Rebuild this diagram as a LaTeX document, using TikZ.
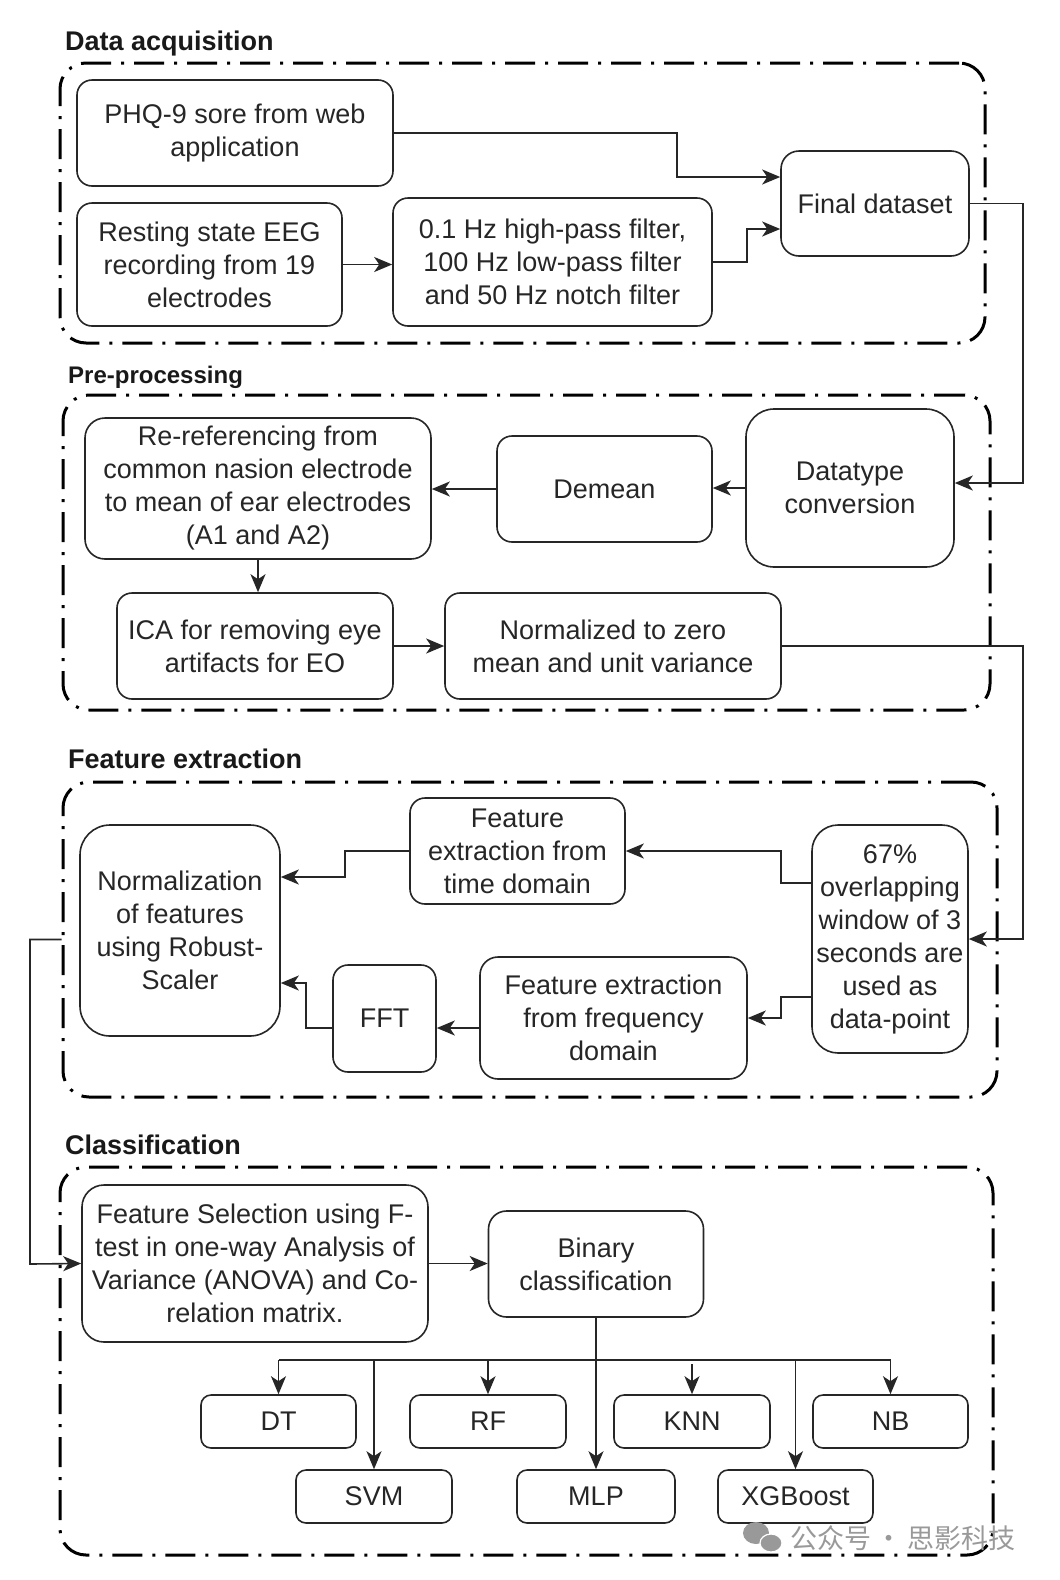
\documentclass[tikz,border=0pt]{standalone}
\usepackage{fontspec}
\setmainfont{Liberation Sans}
\newfontfamily\cjkfont{Noto Sans CJK SC}
\usetikzlibrary{arrows.meta}
\begin{document}
\begin{tikzpicture}[x=1pt,y=-1pt,
  box/.style={draw=black!85, line width=1.6pt, rounded corners=15pt, align=center, inner sep=0pt, font=\fontsize{27}{33}\selectfont, text=black!85},
  frame/.style={draw=black, line width=3pt, rounded corners=26pt, dash pattern=on 30pt off 10pt on 3pt off 10pt, inner sep=0pt},
  title/.style={anchor=base west, inner sep=0pt, font=\bfseries\fontsize{27}{32}\selectfont, text=black!90},
  conn/.style={draw=black!85, line width=1.6pt},
  arr/.style={conn, -{Stealth[length=18pt,width=15pt,inset=5pt]}}]
\useasboundingbox[fill=white] (0,0) rectangle (1060,1580);

% ---------- frames ----------
\node[frame, minimum width=925pt, minimum height=280pt] (da) at (522.5,203) {};
\node[frame, minimum width=927pt, minimum height=315pt] (pp) at (526.5,552.5) {};
\node[frame, minimum width=934pt, minimum height=315pt] (fe) at (530,939.5) {};
\node[frame, minimum width=933pt, minimum height=388pt] (cl) at (526.5,1361) {};

% ---------- titles ----------
\node[title] (tda) at (65,50) {Data acquisition};
\node[title, font=\bfseries\fontsize{24}{28}\selectfont] (tpp) at (68,383) {Pre-processing};
\node[title] (tfe) at (68,768) {Feature extraction};
\node[title] (tcl) at (65,1154) {Classification};

% ---------- data acquisition ----------
\node[box, minimum width=316pt, minimum height=106pt] (phq) at (235,133) {PHQ-9 sore from web\\application};
\node[box, minimum width=265pt, minimum height=123pt] (rest) at (209.5,264.5) {Resting state EEG\\recording from 19\\electrodes};
\node[box, minimum width=319pt, minimum height=128pt] (filt) at (552.5,262) {0.1 Hz high-pass filter,\\100 Hz low-pass filter\\and 50 Hz notch filter};
\node[box, minimum width=188pt, minimum height=105pt, rounded corners=18pt] (final) at (875,203.5) {Final dataset};

% ---------- pre-processing ----------
\node[box, minimum width=346pt, minimum height=141pt, rounded corners=20pt] (reref) at (258,488.5) {Re-referencing from\\common nasion electrode\\to mean of ear electrodes\\(A1 and A2)};
\node[box, minimum width=276pt, minimum height=106pt] (ica) at (255,646) {ICA for removing eye\\artifacts for EO};
\node[box, minimum width=336pt, minimum height=106pt] (norm) at (613,646) {Normalized to zero\\mean and unit variance};
\node[box, minimum width=215pt, minimum height=106pt] (demean) at (604.5,489) {Demean};
\node[box, minimum width=208pt, minimum height=158pt, rounded corners=28pt] (dtype) at (850,488) {Datatype\\conversion};

% ---------- feature extraction ----------
\node[box, minimum width=200pt, minimum height=211pt, rounded corners=30pt] (nrob) at (180,930.5) {Normalization\\of features\\using Robust-\\Scaler};
\node[box, minimum width=215pt, minimum height=106pt] (ftime) at (517.5,851) {Feature\\extraction from\\time domain};
\node[box, minimum width=103pt, minimum height=107pt] (fft) at (384.5,1018.5) {FFT};
\node[box, minimum width=267pt, minimum height=122pt, rounded corners=18pt] (ffreq) at (613.5,1018) {Feature extraction\\from frequency\\domain};
\node[box, minimum width=156pt, minimum height=228pt, rounded corners=26pt] (win) at (890,939) {67\%\\overlapping\\window of 3\\seconds are\\used as\\data-point};

% ---------- classification ----------
\node[box, minimum width=346pt, minimum height=157pt, rounded corners=22pt] (fsel) at (255,1263.5) {Feature Selection using F-\\test in one-way Analysis of\\Variance (ANOVA) and Co-\\relation matrix.};
\node[box, minimum width=215pt, minimum height=106pt, rounded corners=18pt] (bin) at (596,1264) {Binary\\classification};
\node[box, minimum width=155pt, minimum height=53pt, rounded corners=10pt] (dt) at (278.5,1421.5) {DT};
\node[box, minimum width=156pt, minimum height=53pt, rounded corners=10pt] (rf) at (488,1421.5) {RF};
\node[box, minimum width=156pt, minimum height=53pt, rounded corners=10pt] (knn) at (692,1421.5) {KNN};
\node[box, minimum width=155pt, minimum height=53pt, rounded corners=10pt] (nb) at (890.5,1421.5) {NB};
\node[box, minimum width=156pt, minimum height=53pt, rounded corners=10pt] (svm) at (374,1496.5) {SVM};
\node[box, minimum width=158pt, minimum height=53pt, rounded corners=10pt] (mlp) at (596,1496.5) {MLP};
\node[box, minimum width=155pt, minimum height=53pt, rounded corners=10pt] (xgb) at (795.5,1496.5) {XGBoost};

% ---------- connectors: data acquisition ----------
\draw[arr] (phq.east) -| (677,177) -- ([yshift=26.5pt]final.west);
\draw[arr] (rest.east) -- (rest.east -| filt.west);
\draw[arr] (filt.east) -| (747,229) -- ([yshift=-25.5pt]final.west);
\draw[arr] (final.east) -| (1023,483) -- ([yshift=5pt]dtype.east);

% ---------- connectors: pre-processing ----------
\draw[arr] (dtype.west) -- (dtype.west -| demean.east);
\draw[arr] (demean.west) -- (demean.west -| reref.east);
\draw[arr] (reref.south) -- (reref.south |- ica.north);
\draw[arr] (ica.east) -- (norm.west);
\draw[arr] (norm.east) -| (1023,939) -- (win.east);

% ---------- connectors: feature extraction ----------
\draw[arr] ([yshift=56pt]win.west) -| (781,851) -- (ftime.east);
\draw[arr] ([yshift=-58pt]win.west) -| (781,1018) -- (ffreq.east);
\draw[arr] (ftime.west) -| (345,877) -- ([yshift=53.5pt]nrob.east);
\draw[arr] ([yshift=-10pt]ffreq.west) -- ([yshift=-10pt]ffreq.west -| fft.east);
\draw[arr] ([yshift=-9.5pt]fft.west) -| (306,983) -- ([yshift=-52.5pt]nrob.east);
\draw[arr] (fe.west) -| (30,1264) -- (fsel.west);

% ---------- connectors: classification ----------
\coordinate (bus) at (596,1360);
\draw[arr] (fsel.east) -- (fsel.east -| bin.west);
\draw[arr] (bin.south) -- (mlp.north);
\draw[conn] (dt.north |- bus) -- (nb.north |- bus);
\draw[arr] (dt.north |- bus) -- (dt.north);
\draw[arr] (svm.north |- bus) -- (svm.north);
\draw[arr] (rf.north |- bus) -- (rf.north);
\draw[arr] ([yshift=-4pt]knn.north |- bus) -- (knn.north);
\draw[arr] (xgb.north |- bus) -- (xgb.north);
\draw[arr] (nb.north |- bus) -- (nb.north);

% ---------- watermark ----------
\fill[black!40] (756,1533) ellipse (13pt and 11pt);
\fill[black!40, draw=white, line width=1.2pt] (771,1543) ellipse (11pt and 9pt);
\node[inner sep=0pt, text=black!40, font=\cjkfont\fontsize{27}{30}\selectfont] (wm) at (903,1538) {公众号\,·\,思影科技};
\end{tikzpicture}
\end{document}
